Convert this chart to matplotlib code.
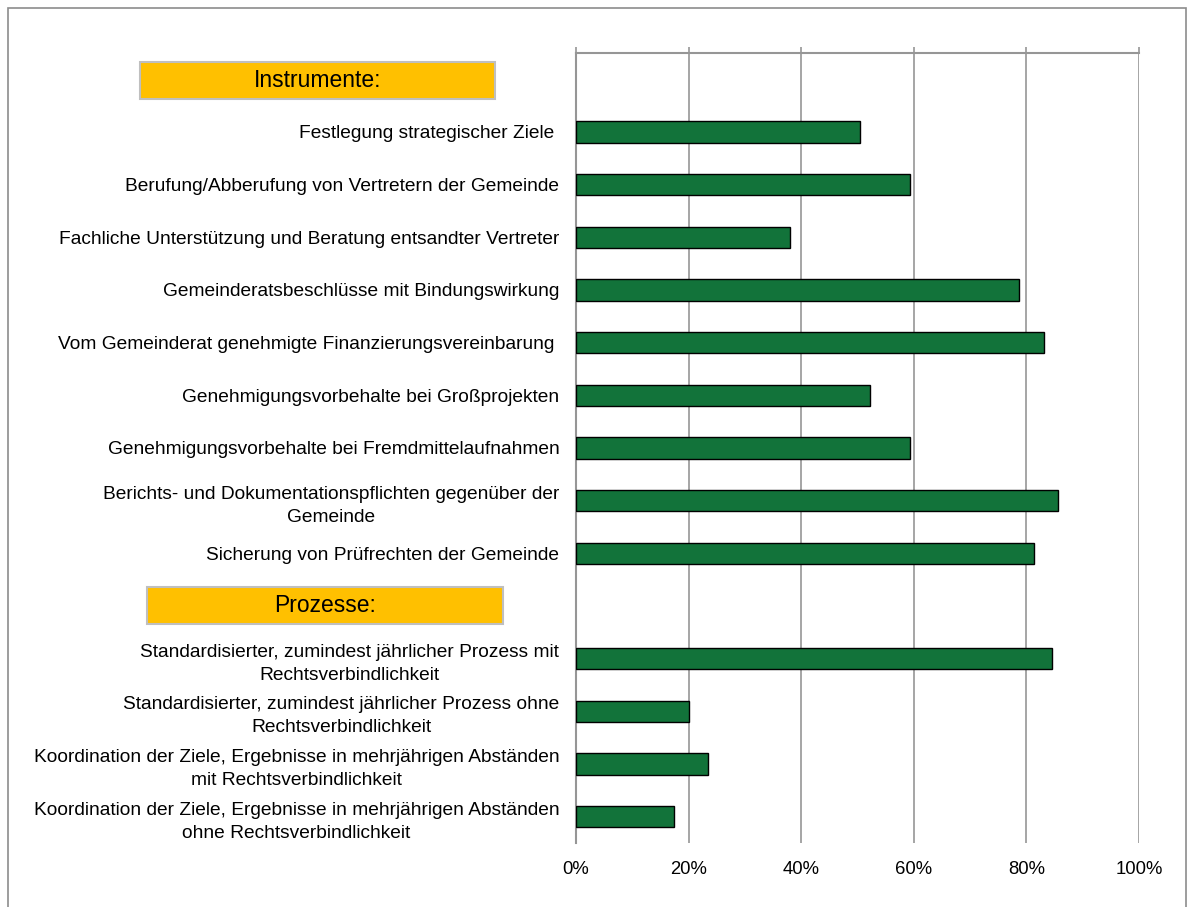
import numpy as np
import matplotlib
matplotlib.use("Agg")
import matplotlib.pyplot as plt
from matplotlib.patches import Rectangle

plt.rcParams['font.family'] = ['Liberation Sans', 'DejaVu Sans']

# data (share of municipalities, %), top to bottom
instrument_labels = [
    "Festlegung strategischer Ziele ",
    "Berufung/Abberufung von Vertretern der Gemeinde",
    "Fachliche Unterstützung und Beratung entsandter Vertreter",
    "Gemeinderatsbeschlüsse mit Bindungswirkung",
    "Vom Gemeinderat genehmigte Finanzierungsvereinbarung ",
    "Genehmigungsvorbehalte bei Großprojekten",
    "Genehmigungsvorbehalte bei Fremdmittelaufnahmen",
    "Berichts- und Dokumentationspflichten gegenüber der\nGemeinde",
    "Sicherung von Prüfrechten der Gemeinde",
]
instrument_values = [50.4, 59.3, 38.0, 78.7, 83.1, 52.2, 59.3, 85.7, 81.3]

process_labels = [
    "Standardisierter, zumindest jährlicher Prozess mit\nRechtsverbindlichkeit",
    "Standardisierter, zumindest jährlicher Prozess ohne\nRechtsverbindlichkeit",
    "Koordination der Ziele, Ergebnisse in mehrjährigen Abständen\nmit Rechtsverbindlichkeit",
    "Koordination der Ziele, Ergebnisse in mehrjährigen Abständen\nohne Rechtsverbindlichkeit",
]
process_values = [84.5, 20.1, 23.5, 17.4]

group_titles = ["Instrumente:", "Prozesse:"]
x_ticks = [0, 20, 40, 60, 80, 100]

# one empty slot in front of each group for its title box
labels = [""] + instrument_labels + [""] + process_labels
values = [np.nan] + instrument_values + [np.nan] + process_values
pos = np.arange(len(labels))

W, H = 1193, 907
fig = plt.figure(figsize=(W / 100, H / 100), dpi=100)
ax = fig.add_axes([576 / W, 1 - 843 / H, 563 / W, 790 / H])

grid_col = "#969696"
ax.barh(pos, values, height=0.4, color="#12733A", edgecolor="black", linewidth=1.0, zorder=3)

ax.set_xlim(0, 100)
ax.set_ylim(len(labels) - 0.5, -0.5)
ax.set_xticks(x_ticks)
ax.set_xticklabels([f"{t}%" for t in x_ticks], fontsize=13.3)
ax.set_yticks(pos)
ax.set_yticklabels(labels, fontsize=13.75)
for t in ax.get_yticklabels():
    t.set_multialignment("center")
    t.set_linespacing(1.45)

ax.grid(axis="x", color=grid_col, linewidth=1.2, zorder=0)
for s in ["right", "bottom"]:
    ax.spines[s].set_visible(False)
for s in ["left", "top"]:
    ax.spines[s].set_color(grid_col)
    ax.spines[s].set_linewidth(1.5)
ax.tick_params(axis="y", length=0, pad=12)
ax.tick_params(axis="x", top=True, bottom=False, labeltop=False, labelbottom=True,
               direction="out", length=4.5, width=1.2, color=grid_col, pad=8.5)

# group title boxes
boxes = [(140, 62, 355, 37), (147, 587, 356, 37)]
for (bx, by, bw, bh), title in zip(boxes, group_titles):
    fig.add_artist(Rectangle((bx / W, 1 - (by + bh) / H), bw / W, bh / H,
                             transform=fig.transFigure, facecolor="#FFC000",
                             edgecolor="#BFBFBF", linewidth=1.5))
    fig.text((bx + bw / 2) / W, 1 - (by + bh / 2) / H, title, fontsize=16.5,
             ha="center", va="center")

# outer chart frame
fig.add_artist(Rectangle((8 / W, -0.02), 1178 / W, 1 - 8 / H + 0.02,
                         transform=fig.transFigure, fill=False,
                         edgecolor="#8C8C8C", linewidth=1.2))

fig.savefig("out.png", dpi=100)
